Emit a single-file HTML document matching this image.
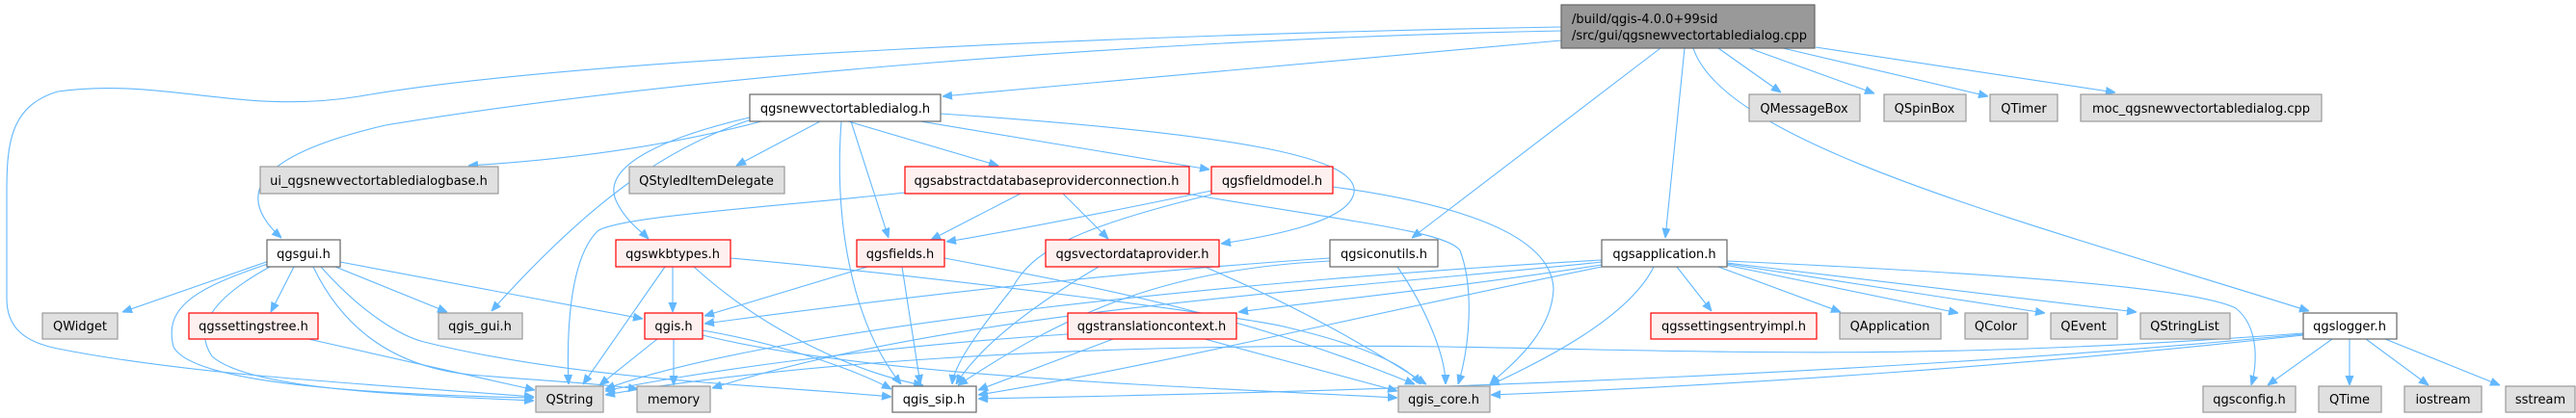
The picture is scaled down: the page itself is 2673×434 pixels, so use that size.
<!DOCTYPE html>
<html><head><meta charset="utf-8"><style>
html,body{margin:0;padding:0;background:#fff;width:2673px;height:434px;overflow:hidden}
svg{display:block}
text{font-family:"DejaVu Sans","Liberation Sans",sans-serif;font-size:13px;fill:#000;text-anchor:middle}
.e{fill:none;stroke:#63b8ff;stroke-width:1.1}
.g{fill:#e0e0e0;stroke:#999;stroke-width:1.2}
.w{fill:#fff;stroke:#666;stroke-width:1.2}
.r{fill:#fff0f0;stroke:#f00;stroke-width:1.2}
.m{fill:#999;stroke:#666;stroke-width:1.2}
</style></head><body>
<svg width="2673" height="434" viewBox="0 0 2673 434" xmlns="http://www.w3.org/2000/svg">
<defs><marker id="a" viewBox="0 0 10 10" refX="10" refY="5" markerWidth="10" markerHeight="10" markerUnits="userSpaceOnUse" orient="auto"><path d="M0,1 L10,5 L0,9 z" fill="#63b8ff" stroke="#63b8ff"/></marker></defs>
<g class="e" marker-end="url(#a)">
<path d="M1620,28 C1200,35 600,60 373,100 C250,120 170,80 60,95 C10,110 7,150 7,200 L7,310 C7,340 25,355 60,362 C200,390 400,400 554,412"/>
<path d="M1620,32 C1200,40 700,80 400,130 C270,160 240,200 292,247"/>
<path d="M1620,42 L978,100"/>
<path d="M1723,50 L1465,247"/>
<path d="M1748,50 L1728,247"/>
<path d="M1757,50 C1790,150 2100,230 2396,323"/>
<path d="M1783,50 L1848,96"/>
<path d="M1815,50 L1945,97"/>
<path d="M1850,50 L2063,100"/>
<path d="M1884,49 L2195,96"/>
<path d="M790,126 C700,150 600,165 486,172"/>
<path d="M851,126 L764,172"/>
<path d="M880,126 L1036,172"/>
<path d="M955,126 L1255,176"/>
<path d="M883,126 L922,247"/>
<path d="M976,118 C1300,140 1410,165 1405,200 C1400,230 1320,245 1267,253"/>
<path d="M778,122 C700,140 620,170 640,210 C650,230 665,240 673,248"/>
<path d="M780,124 C700,150 620,200 510,323"/>
<path d="M873,126 C866,220 880,330 935,399"/>
<path d="M939,200 C800,215 640,225 620,240 C590,270 588,350 590,399"/>
<path d="M1059,201 L966,249"/>
<path d="M1103,201 L1150,248"/>
<path d="M1230,201 C1400,230 1500,240 1515,260 C1530,300 1525,360 1513,399"/>
<path d="M1257,198 C1150,220 1050,240 982,251"/>
<path d="M1257,202 C1120,235 1070,260 1050,300 C1010,350 990,380 988,399"/>
<path d="M1383,194 C1500,210 1610,240 1612,300 C1610,350 1560,385 1546,399"/>
<path d="M282,270 L127,324"/>
<path d="M305,277 L281,324"/>
<path d="M348,277 L464,324"/>
<path d="M353,272 L667,331"/>
<path d="M278,274 C200,300 170,320 180,360 C200,400 400,410 554,413"/>
<path d="M280,277 C220,310 200,340 220,370 C260,405 420,410 554,416"/>
<path d="M325,277 C360,350 420,385 500,390 C560,395 620,398 662,404"/>
<path d="M333,277 C380,330 420,350 440,355 C600,395 800,400 925,412"/>
<path d="M698,277 L698,324"/>
<path d="M690,277 L605,399"/>
<path d="M720,277 C800,350 900,390 958,400"/>
<path d="M758,268 C1000,290 1300,330 1336,340 C1420,360 1460,380 1474,399"/>
<path d="M900,277 L731,328"/>
<path d="M936,277 L955,399"/>
<path d="M980,268 C1150,300 1300,330 1468,399"/>
<path d="M1140,277 C1050,330 1010,370 992,399"/>
<path d="M1250,277 C1350,320 1420,360 1480,399"/>
<path d="M1380,268 C1200,280 1000,300 731,336"/>
<path d="M1380,271 C1200,280 1100,330 994,400"/>
<path d="M1450,277 C1480,320 1500,370 1500,399"/>
<path d="M1662,275 C1500,300 1350,315 1285,324"/>
<path d="M1740,277 L1776,323"/>
<path d="M1783,277 L1910,324"/>
<path d="M1790,275 L2032,325"/>
<path d="M1792,274 L2122,325"/>
<path d="M1792,273 L2217,324"/>
<path d="M1792,271 C2100,285 2280,300 2320,320 C2345,340 2342,380 2336,400"/>
<path d="M1716,277 C1690,330 1600,375 1546,400"/>
<path d="M1662,277 C1400,330 1200,380 1015,410"/>
<path d="M1662,270 C1300,290 800,340 628,404"/>
<path d="M1662,272 C1400,300 1000,320 739,403"/>
<path d="M682,352 L622,400"/>
<path d="M699,352 L699,400"/>
<path d="M729,343 C800,355 880,380 925,404"/>
<path d="M729,348 C900,390 1200,400 1450,413"/>
<path d="M320,352 L555,405"/>
<path d="M1108,347 C900,360 700,390 628,406"/>
<path d="M1155,352 L1015,405"/>
<path d="M1250,352 L1450,406"/>
<path d="M2420,352 L2353,400"/>
<path d="M2438,352 L2438,400"/>
<path d="M2455,352 L2520,400"/>
<path d="M2475,352 L2594,400"/>
<path d="M2390,346 C2000,375 1800,365 1500,360 C1100,355 800,380 628,410"/>
<path d="M2390,348 C2100,380 1800,400 1547,410"/>
<path d="M2390,347 C2000,385 1500,405 1015,414"/>
</g>
<rect class="m" x="1620" y="5" width="263" height="45"/>
<text x="1631" y="24" style="text-anchor:start">/build/qgis-4.0.0+99sid</text>
<text x="1631" y="41" style="text-anchor:start">/src/gui/qgsnewvectortabledialog.cpp</text>
<g>
<rect class="w" x="778" y="98" width="198" height="28"/><text x="877" y="117">qgsnewvectortabledialog.h</text>
<rect class="g" x="1815" y="98" width="115" height="28"/><text x="1872" y="117">QMessageBox</text>
<rect class="g" x="1955" y="98" width="85" height="28"/><text x="1997" y="117">QSpinBox</text>
<rect class="g" x="2065" y="98" width="70" height="28"/><text x="2100" y="117">QTimer</text>
<rect class="g" x="2159" y="98" width="250" height="28"/><text x="2284" y="117">moc_qgsnewvectortabledialog.cpp</text>

<rect class="g" x="270" y="173" width="247" height="28"/><text x="393" y="192">ui_qgsnewvectortabledialogbase.h</text>
<rect class="g" x="653" y="173" width="161" height="28"/><text x="733" y="192">QStyledItemDelegate</text>
<rect class="r" x="939" y="173" width="295" height="28"/><text x="1086" y="192">qgsabstractdatabaseproviderconnection.h</text>
<rect class="r" x="1257" y="173" width="126" height="28"/><text x="1320" y="192">qgsfieldmodel.h</text>

<rect class="w" x="277" y="249" width="76" height="28"/><text x="315" y="268">qgsgui.h</text>
<rect class="r" x="639" y="249" width="119" height="28"/><text x="698" y="268">qgswkbtypes.h</text>
<rect class="r" x="889" y="249" width="91" height="28"/><text x="934" y="268">qgsfields.h</text>
<rect class="r" x="1085" y="249" width="180" height="28"/><text x="1175" y="268">qgsvectordataprovider.h</text>
<rect class="w" x="1380" y="249" width="112" height="28"/><text x="1436" y="268">qgsiconutils.h</text>
<rect class="w" x="1662" y="249" width="130" height="28"/><text x="1727" y="268">qgsapplication.h</text>

<rect class="g" x="44" y="325" width="78" height="27"/><text x="83" y="343">QWidget</text>
<rect class="r" x="196" y="325" width="134" height="27"/><text x="263" y="343">qgssettingstree.h</text>
<rect class="g" x="455" y="325" width="87" height="27"/><text x="498" y="343">qgis_gui.h</text>
<rect class="r" x="669" y="325" width="60" height="27"/><text x="699" y="343">qgis.h</text>
<rect class="r" x="1108" y="325" width="175" height="27"/><text x="1195" y="343">qgstranslationcontext.h</text>
<rect class="r" x="1713" y="325" width="172" height="27"/><text x="1799" y="343">qgssettingsentryimpl.h</text>
<rect class="g" x="1909" y="325" width="105" height="27"/><text x="1961" y="343">QApplication</text>
<rect class="g" x="2039" y="325" width="65" height="27"/><text x="2071" y="343">QColor</text>
<rect class="g" x="2128" y="325" width="69" height="27"/><text x="2162" y="343">QEvent</text>
<rect class="g" x="2221" y="325" width="93" height="27"/><text x="2267" y="343">QStringList</text>
<rect class="w" x="2390" y="325" width="97" height="27"/><text x="2438" y="343">qgslogger.h</text>

<rect class="g" x="556" y="401" width="70" height="27"/><text x="591" y="419">QString</text>
<rect class="g" x="661" y="401" width="76" height="27"/><text x="699" y="419">memory</text>
<rect class="w" x="926" y="401" width="87" height="27"/><text x="969" y="419">qgis_sip.h</text>
<rect class="g" x="1451" y="401" width="95" height="27"/><text x="1498" y="419">qgis_core.h</text>
<rect class="g" x="2286" y="401" width="96" height="27"/><text x="2334" y="419">qgsconfig.h</text>
<rect class="g" x="2406" y="401" width="65" height="27"/><text x="2438" y="419">QTime</text>
<rect class="g" x="2495" y="401" width="80" height="27"/><text x="2535" y="419">iostream</text>
<rect class="g" x="2600" y="401" width="72" height="27"/><text x="2636" y="419">sstream</text>
</g>
</svg>
</body></html>
